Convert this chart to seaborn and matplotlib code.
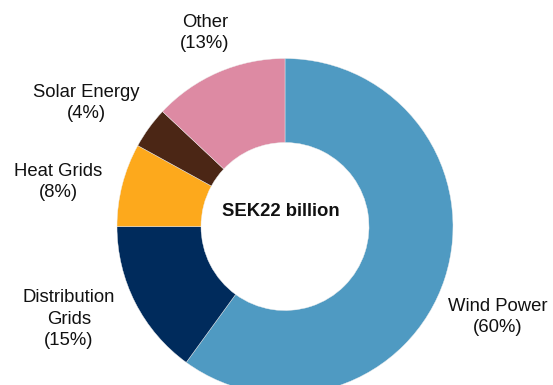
import matplotlib
matplotlib.use("Agg")
import matplotlib.pyplot as plt
import seaborn as sns

# Investment breakdown
categories = ["Wind Power", "Distribution\nGrids", "Heat Grids", "Solar Energy", "Other"]
shares = [60, 15, 8, 4, 13]
colors = ["#4F9AC2", "#002B5C", "#FDA91C", "#4B2615", "#DD8AA3"]
total_label = "SEK22 billion"

sns.set_theme(style="white")
plt.rcParams["font.family"] = ["Liberation Sans", "DejaVu Sans"]

fig = plt.figure(figsize=(5.53, 3.85), dpi=100)
ax = fig.add_axes([0, 0, 1, 1])

cx, cy, R = 285, 158.5, 168
ax.pie(shares, colors=colors, startangle=90, counterclock=False,
       center=(cx, cy), radius=R, frame=True,
       wedgeprops=dict(width=R * 0.5, linewidth=0.3, edgecolor="#eeeeee"))
ax.set_xlim(0, 553)
ax.set_ylim(0, 385)
ax.set_aspect("equal")
ax.axis("off")

label_pos = [(498, 68), (69, 66), (58, 203), (86, 282), (205, 352)]
for name, pct, (x, y) in zip(categories, shares, label_pos):
    ax.text(x, y, f"{name}\n({pct}%)", ha="center", va="center",
            fontsize=13.3, color="#111111", linespacing=1.32)

ax.text(cx - 4, 173, total_label, ha="center", va="center",
        fontsize=13.3, fontweight="bold", color="#111111")

fig.savefig("out.png", dpi=100)
